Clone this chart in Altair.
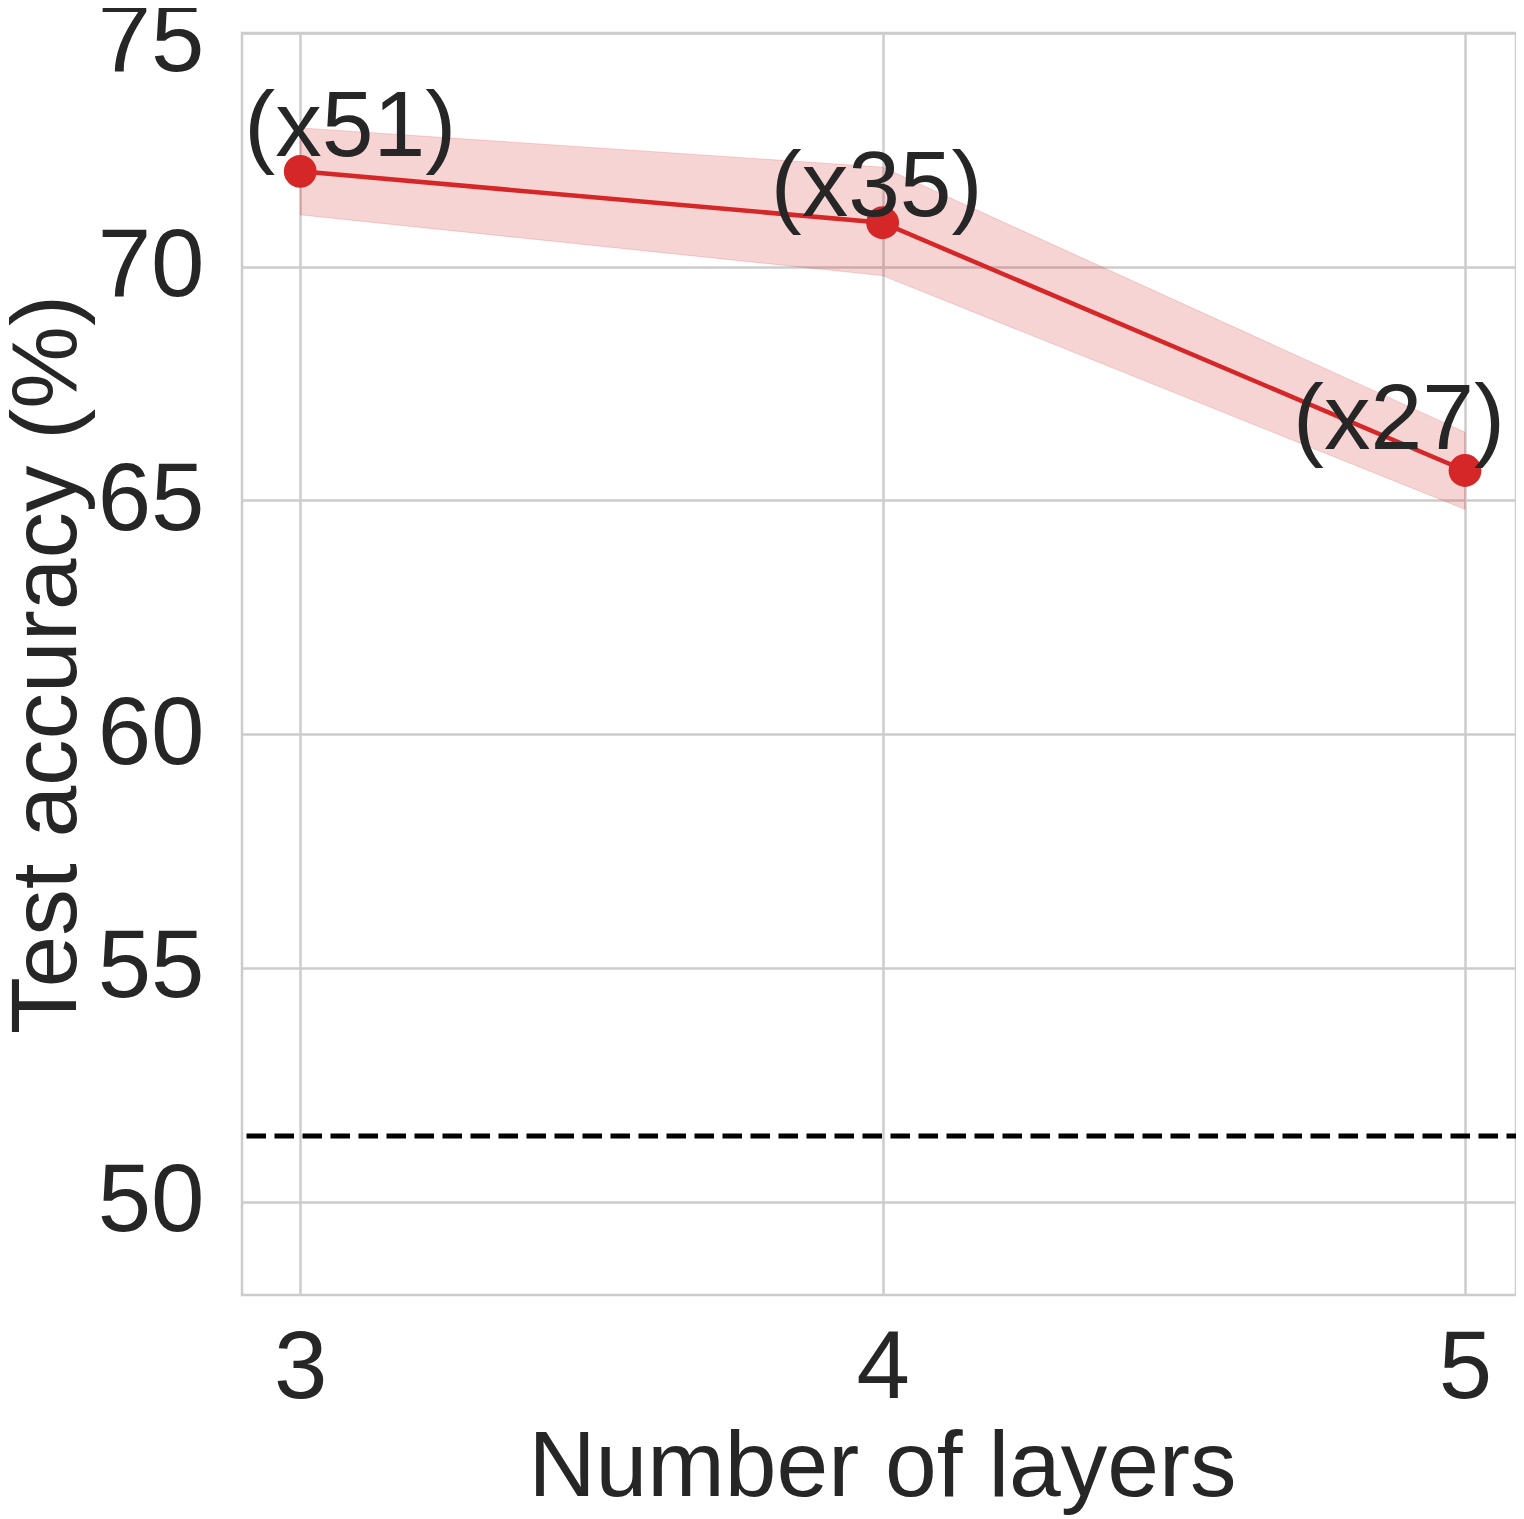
import altair as alt
import pandas as pd

# ---- data ----
layers = [3, 4, 5]
acc_mean = [72.04, 70.94, 65.64]
acc_low = [71.11, 69.81, 64.81]
acc_high = [72.97, 72.13, 66.46]
speedup_labels = ["(x51)", "(x35)", "(x27)"]
baseline_acc = [51.4]
x_ticks = [3, 4, 5]
y_ticks = [50, 55, 60, 65, 70, 75]

# label offsets (pixels) relative to each point
label_dx = [50, -6, -66]
label_dy = [-15, -7, -21]

df = pd.DataFrame({
    "layers": layers,
    "mean": acc_mean,
    "low": acc_low,
    "high": acc_high,
    "label": speedup_labels,
})
df_base = pd.DataFrame({"acc": baseline_acc})

RED = "#d62728"
FONT = "Liberation Sans"
TXT = "#262626"

x_scale = alt.Scale(domain=[2.9, 5.0876], nice=False, zero=False)
y_scale = alt.Scale(domain=[48, 75], nice=False, zero=False)

x_axis = alt.Axis(values=x_ticks, format="d", title="Number of layers",
                  labelPadding=26, titleX=640, titleY=200,
                  titleBaseline="alphabetic")
y_axis = alt.Axis(values=y_ticks, format="d", title="Test accuracy (%)",
                  labelPadding=38, titleX=-167, titleY=631,
                  titleBaseline="alphabetic",
                  labelOffset={"condition": {"test": "datum.value == 75", "value": 8},
                               "value": 0})

X = alt.X("layers:Q", scale=x_scale, axis=x_axis)

band = alt.Chart(df).mark_area(
    color=RED, fillOpacity=0.2, stroke=RED, strokeOpacity=0.2, strokeWidth=1
).encode(
    x=X,
    y=alt.Y("low:Q", scale=y_scale, axis=y_axis),
    y2="high:Q",
)

rule = alt.Chart(df_base).mark_rule(
    color="black", strokeWidth=5, strokeDash=[19.5, 8.5], strokeDashOffset=10
).encode(y=alt.Y("acc:Q", scale=y_scale, axis=y_axis))

line = alt.Chart(df).mark_line(color=RED, strokeWidth=4.5).encode(
    x=X, y=alt.Y("mean:Q", scale=y_scale, axis=y_axis)
)

points = alt.Chart(df).mark_circle(color=RED, size=1075, opacity=1).encode(
    x=X, y=alt.Y("mean:Q", scale=y_scale, axis=y_axis)
)

texts = []
for i, lv in enumerate(layers):
    texts.append(
        alt.Chart(df).transform_filter(alt.datum.layers == lv).mark_text(
            dx=label_dx[i], dy=label_dy[i], align="center", baseline="alphabetic",
            font=FONT, fontSize=93, color=TXT
        ).encode(
            x=X, y=alt.Y("mean:Q", scale=y_scale, axis=y_axis), text="label:N"
        )
    )

chart = alt.layer(band, rule, line, points, *texts).properties(
    width=1274,
    height=1262,
    autosize=alt.AutoSizeParams(type="none"),
    padding={"left": 234, "top": 25, "right": 0, "bottom": 220},
    background="white",
).configure(font=FONT).configure_view(
    stroke="#cccccc", strokeWidth=2.5
).configure_axis(
    grid=True, gridColor="#cccccc", gridWidth=2.5,
    domain=False, ticks=False,
    labelFont=FONT, labelFontSize=96, labelColor=TXT,
    titleFont=FONT, titleFontSize=93, titleColor=TXT, titleFontWeight="normal",
    labelFlush=False, labelOverlap=False,
)

chart.save("out.html", embed_options={"renderer": "svg", "actions": False})
